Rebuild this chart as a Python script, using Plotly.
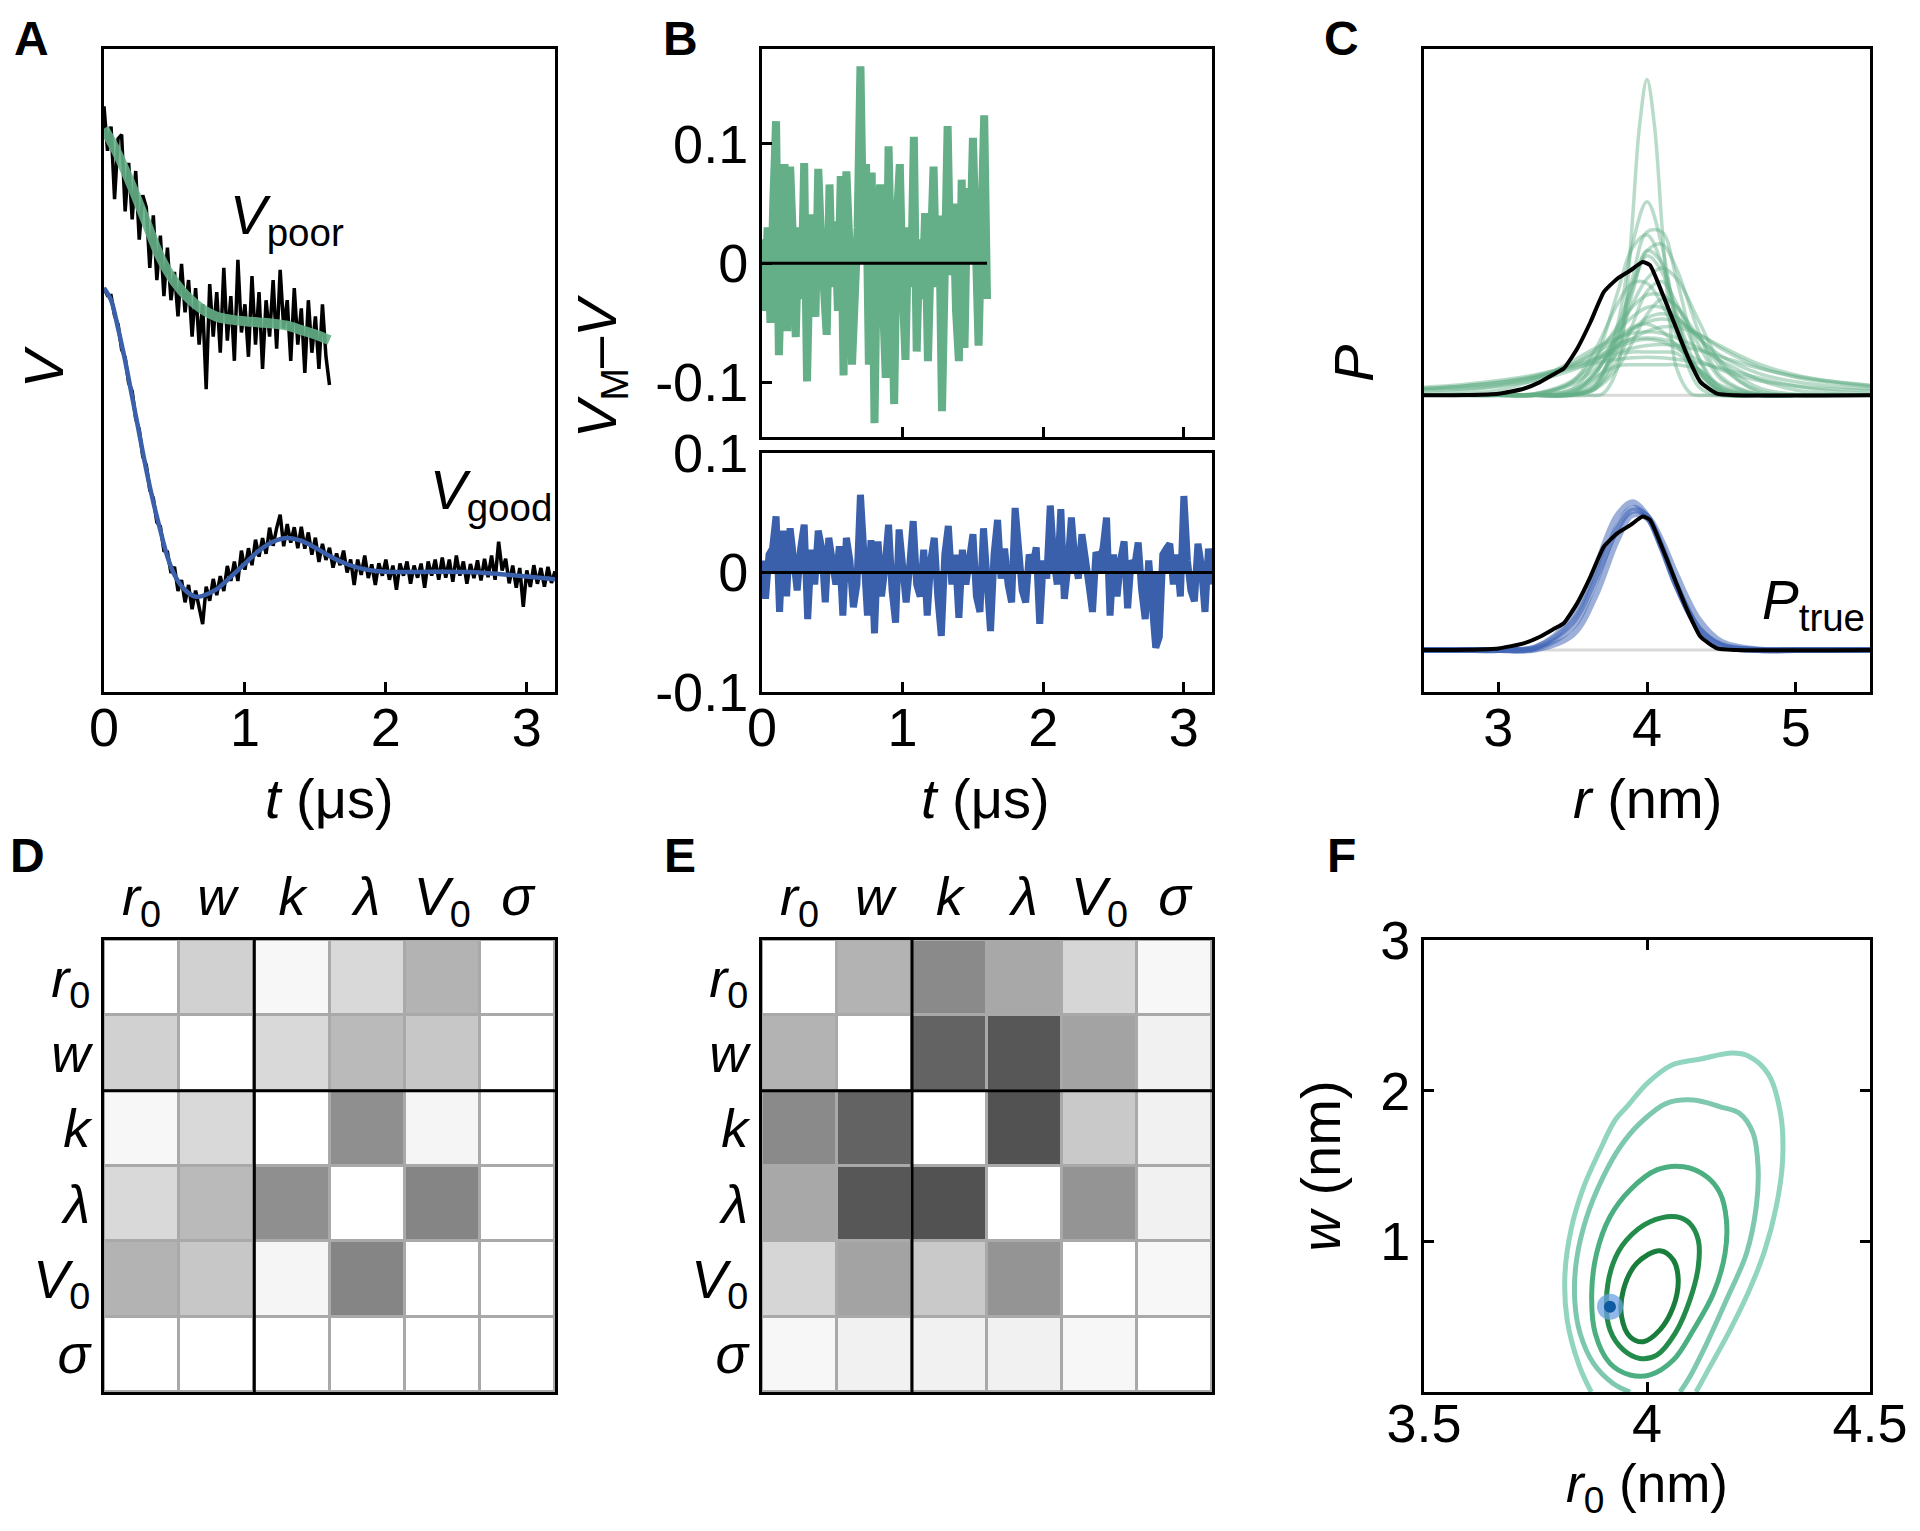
import plotly.graph_objects as go

FONT = "Liberation Sans, Arial, Helvetica, sans-serif"
GREEN = "rgb(100,175,135)"
GREEN_BAND = "rgba(100,175,135,0.9)"
GREEN_THIN = "rgba(100,175,135,0.45)"
BLUE = "rgb(58,96,172)"
BLUE_THIN = "rgba(58,96,180,0.5)"
PAGE_W, PAGE_H = 1920, 1531
BODY_MARGIN = 8                      # default browser body margin around the plot div
W, H = PAGE_W - 2 * BODY_MARGIN, PAGE_H - 2 * BODY_MARGIN

# ---------------- Panel A : signals ----------------
t_fit_good = [0, 0.05, 0.1, 0.15, 0.2, 0.25, 0.3, 0.35, 0.4, 0.45, 0.5, 0.55, 0.6, 0.65, 0.7,
              0.8, 0.9, 1.0, 1.1, 1.2, 1.3, 1.4, 1.5, 1.6, 1.7, 1.8, 1.9, 2.0,
              2.2, 2.4, 2.6, 2.8, 3.0, 3.2]
v_fit_good = [1.0, 0.97, 0.90, 0.82, 0.73, 0.64, 0.55, 0.47, 0.40, 0.335,
              0.29, 0.262, 0.245, 0.236, 0.238, 0.255, 0.285, 0.318, 0.350, 0.372,
              0.381, 0.374, 0.357, 0.337, 0.320, 0.308, 0.301, 0.298, 0.297, 0.298,
              0.297, 0.292, 0.286, 0.279]
t_fit_poor = [0, 0.1, 0.2, 0.3, 0.4, 0.5, 0.6, 0.7, 0.8, 0.9, 1.0, 1.1, 1.2, 1.3, 1.4, 1.5, 1.6]
v_fit_poor = [1.395, 1.33, 1.25, 1.163, 1.076, 1.016, 0.975, 0.947, 0.929, 0.922,
              0.918, 0.915, 0.912, 0.907, 0.896, 0.885, 0.871]

t_good = [round(0.025 * i, 3) for i in range(129)]   # sampling times (us)
t_poor = [round(0.025 * i, 3) for i in range(65)]
v_data_good = [1.000, 0.982, 0.982, 0.932, 0.910, 0.848, 0.828, 0.765, 0.745, 0.677,
               0.650, 0.583, 0.562, 0.500, 0.480, 0.420, 0.410, 0.350, 0.347, 0.295,
               0.310, 0.250, 0.277, 0.222, 0.265, 0.205, 0.251, 0.211, 0.168, 0.261,
               0.226, 0.280, 0.240, 0.287, 0.250, 0.312, 0.275, 0.323, 0.275, 0.350,
               0.303, 0.356, 0.314, 0.377, 0.335, 0.381, 0.342, 0.407, 0.362, 0.406,
               0.439, 0.361, 0.416, 0.370, 0.408, 0.356, 0.409, 0.355, 0.395, 0.340,
               0.382, 0.322, 0.367, 0.327, 0.357, 0.308, 0.343, 0.314, 0.350, 0.296,
               0.328, 0.265, 0.328, 0.290, 0.338, 0.282, 0.316, 0.265, 0.319, 0.288,
               0.328, 0.278, 0.313, 0.253, 0.318, 0.288, 0.323, 0.268, 0.313, 0.283,
               0.318, 0.258, 0.323, 0.288, 0.328, 0.278, 0.333, 0.283, 0.328, 0.273,
               0.338, 0.288, 0.323, 0.268, 0.317, 0.282, 0.326, 0.276, 0.330, 0.284,
               0.338, 0.278, 0.372, 0.301, 0.330, 0.269, 0.313, 0.258, 0.307, 0.211,
               0.301, 0.260, 0.314, 0.268, 0.307, 0.261, 0.310, 0.270, 0.299]
v_data_poor = [1.45, 1.34, 1.40, 1.22, 1.37, 1.38, 1.19, 1.31, 1.17, 1.29,
               1.12, 1.23, 1.20, 1.05, 1.18, 1.02, 1.13, 0.98, 1.10, 0.97,
               1.04, 0.93, 1.06, 0.94, 1.02, 0.88, 1.00, 0.86, 0.96, 0.75,
               1.01, 0.88, 0.99, 0.84, 1.05, 0.87, 0.98, 0.82, 1.07, 0.89,
               0.96, 0.83, 1.03, 0.86, 0.99, 0.80, 0.97, 0.88, 1.02, 0.85,
               1.045, 0.90, 0.97, 0.82, 1.00, 0.86, 0.95, 0.79, 0.97, 0.84,
               0.93, 0.80, 0.96, 0.83, 0.76]

# ---------------- Panel B : residuals ----------------
t_res_poor = [round(0.02 * i, 3) for i in range(81)]
res_poor = [0.02, -0.04, 0.03, -0.05, 0.05, 0.119, -0.077, 0.04, 0.083, -0.057,
            0.081, 0.02, -0.062, 0.03, -0.03, 0.084, -0.099, 0.01, 0.041, -0.045,
            0.079, 0.02, -0.03, -0.060, 0.066, -0.02, 0.035, -0.04, 0.073, -0.094,
            0.077, 0.02, -0.085, -0.01, 0.03, 0.165, 0.02, 0.083, -0.085, 0.076,
            -0.134, 0.03, 0.066, -0.03, -0.096, 0.098, 0.01, -0.118, 0.04, 0.083,
            -0.02, -0.081, 0.03, -0.02, 0.106, -0.074, 0.02, -0.03, 0.042, -0.082,
            0.01, 0.081, -0.02, 0.04, -0.124, 0.02, 0.115, -0.01, 0.05, -0.04,
            -0.082, 0.070, -0.071, 0.063, 0.01, 0.105, -0.03, -0.069, 0.03, 0.124,
            -0.03]
t_res_good = [round(0.025 * i, 3) for i in range(129)]
res_good = [0.01, -0.022, 0.015, 0.02, 0.047, -0.033, 0.035, -0.02, 0.037, 0.01,
            -0.015, 0.02, 0.040, -0.039, 0.019, -0.01, 0.035, 0.02, -0.025, 0.029,
            0.005, -0.01, 0.022, -0.036, 0.029, 0.01, -0.029, -0.01, 0.065, 0.015,
            -0.036, 0.027, -0.051, 0.026, -0.02, 0.005, 0.040, -0.015, -0.042, 0.036,
            0.01, -0.025, 0.005, 0.043, -0.01, -0.02, 0.019, -0.036, 0.01, 0.029,
            -0.02, -0.053, 0.015, 0.039, -0.01, 0.015, -0.038, 0.019, -0.01, 0.01,
            0.032, -0.02, -0.033, 0.037, -0.01, -0.049, 0.015, 0.044, -0.005, 0.02,
            -0.01, -0.025, 0.054, 0.01, -0.015, -0.025, 0.015, 0.005, 0.021, -0.043,
            0.01, -0.005, 0.056, 0.01, -0.01, 0.053, -0.022, 0.005, 0.046, 0.01,
            -0.005, 0.032, 0.015, -0.01, -0.033, 0.017, 0.01, 0.02, 0.046, -0.036,
            0.015, -0.02, 0.01, 0.026, -0.03, 0.01, 0.005, 0.025, -0.015, -0.039,
            0.01, -0.03, -0.063, -0.054, 0.015, 0.02, 0.024, -0.01, 0.015, -0.02,
            0.064, 0.01, -0.015, -0.024, 0.024, 0.005, -0.033, 0.02, -0.01]

# ---------------- Panel C : distance distributions ----------------
r_grid = [2.5, 2.75, 3.0, 3.25, 3.5, 3.65, 3.8, 3.9, 4.0, 4.1, 4.2, 4.35, 4.5, 4.75, 5.0, 5.25, 5.5]
p_poor_samples = [
    [0, 0, 0, 0, 0, 0.033, 0.274, 0.589, 0.76, 0.589, 0.274, 0.033, 0, 0, 0, 0, 0],
    [0, 0, 0, 0, 0.003, 0.042, 0.228, 0.455, 0.642, 0.642, 0.455, 0.142, 0.02, 0, 0, 0, 0],
    [0, 0, 0, 0, 0.026, 0.139, 0.40, 0.577, 0.63, 0.517, 0.321, 0.094, 0.015, 0, 0, 0, 0],
    [0, 0, 0, 0, 0.015, 0.081, 0.262, 0.433, 0.568, 0.594, 0.495, 0.246, 0.073, 0.003, 0, 0, 0],
    [0, 0, 0, 0, 0.003, 0.038, 0.213, 0.415, 0.548, 0.485, 0.292, 0.066, 0.006, 0, 0, 0, 0],
    [0, 0, 0, 0.002, 0.022, 0.086, 0.229, 0.355, 0.458, 0.5, 0.458, 0.29, 0.125, 0.013, 0, 0, 0],
    [0, 0, 0, 0.003, 0.055, 0.177, 0.357, 0.44, 0.44, 0.357, 0.236, 0.086, 0.02, 0.001, 0, 0, 0],
    [0, 0, 0.001, 0.007, 0.058, 0.144, 0.27, 0.346, 0.394, 0.394, 0.346, 0.226, 0.111, 0.018, 0.001, 0, 0],
    [0.022, 0.03, 0.044, 0.07, 0.121, 0.175, 0.252, 0.307, 0.345, 0.345, 0.307, 0.224, 0.154, 0.086, 0.053, 0.035, 0.025],
    [0.027, 0.036, 0.051, 0.077, 0.123, 0.166, 0.221, 0.259, 0.288, 0.30, 0.288, 0.24, 0.183, 0.112, 0.071, 0.048, 0.034],
    [0.001, 0.005, 0.021, 0.062, 0.135, 0.185, 0.226, 0.244, 0.25, 0.244, 0.226, 0.185, 0.135, 0.062, 0.021, 0.005, 0.001],
    [0.032, 0.042, 0.058, 0.081, 0.115, 0.142, 0.169, 0.185, 0.196, 0.2, 0.196, 0.177, 0.151, 0.107, 0.075, 0.054, 0.04],
    [0, 0, 0, 0, 0.005, 0.06, 0.16, 0.17, 0.17, 0.17, 0.165, 0.09, 0.01, 0, 0, 0, 0],
    [0, 0, 0, 0, 0.01, 0.09, 0.2, 0.22, 0.225, 0.22, 0.2, 0.1, 0.015, 0, 0, 0, 0],
    [0.007, 0.017, 0.037, 0.069, 0.107, 0.127, 0.142, 0.148, 0.15, 0.148, 0.142, 0.127, 0.107, 0.069, 0.037, 0.017, 0.007],
    [0, 0, 0, 0.006, 0.043, 0.104, 0.194, 0.256, 0.303, 0.32, 0.303, 0.227, 0.131, 0.03, 0.004, 0, 0],
    [0.027, 0.036, 0.05, 0.073, 0.113, 0.148, 0.192, 0.224, 0.251, 0.268, 0.268, 0.238, 0.192, 0.123, 0.08, 0.054, 0.038],
    [0, 0, 0, 0, 0.003, 0.026, 0.134, 0.273, 0.408, 0.447, 0.36, 0.146, 0.03, 0, 0, 0, 0],
    [0, 0, 0, 0, 0.003, 0.024, 0.106, 0.207, 0.317, 0.378, 0.351, 0.196, 0.062, 0.003, 0, 0, 0],
    [0, 0, 0, 0, 0.01, 0.07, 0.115, 0.12, 0.12, 0.12, 0.12, 0.1, 0.03, 0, 0, 0, 0],
    [0, 0, 0, 0.005, 0.05, 0.125, 0.22, 0.267, 0.28, 0.252, 0.195, 0.102, 0.038, 0.003, 0, 0, 0],
    [0.018, 0.025, 0.037, 0.058, 0.099, 0.137, 0.184, 0.21, 0.22, 0.21, 0.184, 0.137, 0.099, 0.058, 0.037, 0.025, 0.018],
    [0, 0, 0, 0, 0.001, 0.024, 0.18, 0.398, 0.568, 0.52, 0.306, 0.06, 0.004, 0, 0, 0, 0],
]
r_narrow = [2.5, 3.6, 3.7, 3.8, 3.85, 3.9, 3.95, 4.0, 4.05, 4.1, 4.15, 4.2, 4.3, 4.4, 5.5]
p_narrow = [0, 0, 0.005, 0.105, 0.31, 0.67, 1.06, 1.24, 1.06, 0.67, 0.31, 0.105, 0.005, 0, 0]
p_good_samples = [
    [0, 0, 0, 0.005, 0.09, 0.263, 0.483, 0.558, 0.525, 0.401, 0.25, 0.083, 0.017, 0, 0, 0, 0],
    [0, 0, 0, 0.002, 0.06, 0.208, 0.432, 0.53, 0.518, 0.405, 0.251, 0.08, 0.015, 0, 0, 0, 0],
    [0, 0, 0, 0.01, 0.128, 0.32, 0.528, 0.58, 0.528, 0.397, 0.249, 0.085, 0.02, 0, 0, 0, 0],
    [0, 0, 0, 0.01, 0.11, 0.278, 0.475, 0.546, 0.527, 0.428, 0.292, 0.119, 0.033, 0.002, 0, 0, 0],
]
r_true = [2.5, 2.8, 3.0, 3.17, 3.28, 3.38, 3.44, 3.53, 3.62, 3.71, 3.80, 3.89, 3.97, 4.02,
          4.09, 4.18, 4.27, 4.36, 4.47, 4.6, 5.5]
p_true = [0, 0.001, 0.006, 0.026, 0.052, 0.085, 0.105, 0.183, 0.288, 0.406, 0.458, 0.491,
          0.524, 0.511, 0.419, 0.288, 0.157, 0.052, 0.0065, 0, 0]
UPPER_OFFSET = 1.0

# ---------------- Panels D / E : correlation magnitudes ----------------
params = ["<i>r</i><sub>0</sub>", "<i>w</i>", "<i>k</i>", "<i>λ</i>", "<i>V</i><sub>0</sub>", "<i>σ</i>"]
n_dist_params = 2
corr_poor = [[0, 0.18, 0.03, 0.15, 0.30, 0],
             [0.18, 0, 0.15, 0.27, 0.22, 0],
             [0.03, 0.15, 0, 0.44, 0.04, 0],
             [0.15, 0.27, 0.44, 0, 0.48, 0],
             [0.30, 0.22, 0.04, 0.48, 0, 0],
             [0, 0, 0, 0, 0, 0]]
corr_good = [[0, 0.30, 0.46, 0.34, 0.16, 0.03],
             [0.30, 0, 0.61, 0.66, 0.36, 0.055],
             [0.46, 0.61, 0, 0.68, 0.21, 0.055],
             [0.34, 0.66, 0.68, 0, 0.42, 0.055],
             [0.16, 0.36, 0.21, 0.42, 0, 0.03],
             [0.03, 0.055, 0.055, 0.055, 0.03, 0]]

# ---------------- Panel F : posterior contours ----------------
contours = [
    ([3.875, 3.848, 3.821, 3.816, 3.83, 3.857, 3.893, 3.929, 3.956, 4.001, 4.056, 4.12, 4.191,
      4.227, 4.272, 4.3, 4.304, 4.29, 4.263, 4.227, 4.182, 4.137, 4.11],
     [0.0, 0.175, 0.477, 0.779, 1.082, 1.353, 1.595, 1.807, 1.897, 2.05, 2.17, 2.21, 2.25,
      2.23, 2.11, 1.837, 1.535, 1.233, 0.93, 0.66, 0.387, 0.145, 0.0], "rgb(145,212,192)"),
    ([3.962, 3.924, 3.88, 3.85, 3.838, 3.842, 3.865, 3.902, 3.94, 3.984, 4.044, 4.104, 4.164,
      4.208, 4.238, 4.249, 4.245, 4.223, 4.178, 4.134, 4.096, 4.074],
     [0.0, 0.057, 0.19, 0.389, 0.61, 0.876, 1.163, 1.429, 1.628, 1.783, 1.916, 1.938, 1.893,
      1.849, 1.717, 1.495, 1.23, 0.92, 0.61, 0.323, 0.101, 0.0], "rgb(125,200,175)"),
    ([4.082, 4.134, 4.164, 4.178, 4.175, 4.149, 4.104, 4.059, 4.007, 3.962, 3.917, 3.884,
      3.876, 3.887, 3.917, 3.962, 4.022, 4.082],
     [1.495, 1.429, 1.319, 1.142, 0.92, 0.655, 0.412, 0.212, 0.113, 0.113, 0.19, 0.389,
      0.655, 0.92, 1.163, 1.341, 1.474, 1.495], "rgb(75,175,130)"),
    ([4.066, 4.096, 4.115, 4.115, 4.096, 4.063, 4.022, 3.984, 3.947, 3.917, 3.909, 3.924,
      3.954, 4.007, 4.066],
     [1.163, 1.119, 1.008, 0.832, 0.61, 0.389, 0.245, 0.223, 0.279, 0.412, 0.61, 0.854,
      1.008, 1.13, 1.163], "rgb(35,140,75)"),
    ([4.029, 4.059, 4.07, 4.059, 4.029, 3.992, 3.962, 3.943, 3.947, 3.977, 4.029],
     [0.938, 0.876, 0.743, 0.566, 0.412, 0.334, 0.367, 0.5, 0.677, 0.854, 0.938], "rgb(25,125,60)"),
]
good_r0 = [3.917]
good_w = [0.566]

# =====================================================================
fig = go.Figure()


def line(x, y, color, width, xa, ya, shape="linear", smoothing=1.0, fill=None):
    ln = dict(color=color, width=width, shape=shape)
    if shape == "spline":
        ln["smoothing"] = smoothing
    fig.add_trace(go.Scatter(x=x, y=y, mode="lines", line=ln, fill=fill,
                             fillcolor=color if fill else None,
                             xaxis=xa, yaxis=ya, showlegend=False, hoverinfo="skip"))


# Panel A
line(t_poor, v_data_poor, "black", 3.5, "x", "y")
line(t_good, v_data_good, "black", 3.5, "x", "y")
line(t_fit_poor, v_fit_poor, GREEN_BAND, 10, "x", "y", "spline")
line(t_fit_good, v_fit_good, BLUE, 4.5, "x", "y", "spline")

# Panel B
line(t_res_poor, res_poor, GREEN, 8, "x2", "y2", fill="tozeroy")
line([t_res_poor[0], t_res_poor[-1]], [0, 0], "black", 3, "x2", "y2")
line(t_res_good, res_good, BLUE, 7, "x3", "y3", fill="tozeroy")
line([t_res_good[0], t_res_good[-1]], [0, 0], "black", 3, "x3", "y3")

# Panel C
line([r_grid[0], r_grid[-1]], [UPPER_OFFSET, UPPER_OFFSET], "#d9d9d9", 3, "x4", "y4")
line([r_grid[0], r_grid[-1]], [0, 0], "#d9d9d9", 3, "x4", "y4")
line(r_narrow, [v + UPPER_OFFSET for v in p_narrow], GREEN_THIN, 3.5, "x4", "y4", "spline")
for p in p_poor_samples:
    line(r_grid, [v + UPPER_OFFSET for v in p], GREEN_THIN, 3.5, "x4", "y4", "spline")
line(r_true, [v + UPPER_OFFSET for v in p_true], "black", 4, "x4", "y4", "spline", 0.5)
for p in p_good_samples:
    line(r_grid, p, BLUE_THIN, 6, "x4", "y4", "spline")
line(r_true, p_true, "black", 4, "x4", "y4", "spline", 0.5)

# Panels D, E
idx = list(range(len(params)))
for z, xa, ya in [(corr_poor, "x5", "y5"), (corr_good, "x6", "y6")]:
    fig.add_trace(go.Heatmap(z=z, x=idx, y=idx, colorscale=[[0, "white"], [1, "black"]],
                             zmin=0, zmax=1, showscale=False, xgap=3, ygap=3,
                             xaxis=xa, yaxis=ya, hoverinfo="skip"))

# Panel F
for cx, cy, col in contours:
    line(cx, cy, col, 5, "x7", "y7", "spline")
fig.add_trace(go.Scatter(x=good_r0, y=good_w, mode="markers",
                         marker=dict(size=26, color="rgba(110,160,225,0.75)", line=dict(width=0)),
                         xaxis="x7", yaxis="y7", showlegend=False, hoverinfo="skip"))
fig.add_trace(go.Scatter(x=good_r0, y=good_w, mode="markers",
                         marker=dict(size=12, color="rgb(15,90,160)", line=dict(width=0)),
                         xaxis="x7", yaxis="y7", showlegend=False, hoverinfo="skip"))

# ---------------- axes ----------------
TICKFONT = dict(family=FONT, size=54, color="black")
LABELFONT = dict(family=FONT, size=54, color="black")
TITLEFONT = dict(family=FONT, size=56, color="black")
XSTAND = -14


def px_dom_x(a, b):
    return [(a - BODY_MARGIN) / W, (b - BODY_MARGIN) / W]


def px_dom_y(top, bottom):
    return [1 - (bottom - BODY_MARGIN) / H, 1 - (top - BODY_MARGIN) / H]


def base_axis(domain, anchor, **kw):
    d = dict(domain=domain, anchor=anchor, showline=True, mirror=True, linecolor="black",
             linewidth=3, showgrid=False, zeroline=False, ticks="inside", ticklen=10,
             tickwidth=3, tickcolor="black", tickfont=TICKFONT, automargin=False)
    d.update(kw)
    return d


colA = px_dom_x(104, 555)
colB = px_dom_x(762, 1212)
colC = px_dom_x(1424, 1870)
rowTop = px_dom_y(49, 692)
rowBot = px_dom_y(940, 1392)

fig.update_layout(
    xaxis=base_axis(colA, "y", range=[0, 3.2], tickvals=[0, 1, 2, 3], ticklabelstandoff=XSTAND),
    yaxis=base_axis(rowTop, "x", range=[0, 1.592], showticklabels=False, ticks=""),
    xaxis2=base_axis(colB, "y2", range=[0, 3.2], tickvals=[1, 2, 3], showticklabels=False),
    yaxis2=base_axis(px_dom_y(49, 437), "x2", range=[-0.1456, 0.1795], tickvals=[-0.1, 0, 0.1],
                     ticktext=["-0.1", "0", "0.1"]),
    xaxis3=base_axis(colB, "y3", range=[0, 3.2], tickvals=[0, 1, 2, 3], ticklabelstandoff=XSTAND),
    yaxis3=base_axis(px_dom_y(453, 692), "x3", range=[-0.1, 0.1], tickvals=[-0.1, 0, 0.1],
                     ticktext=["-0.1", "0", "0.1"]),
    xaxis4=base_axis(colC, "y4", range=[2.5, 5.5], tickvals=[3, 4, 5], ticklabelstandoff=XSTAND),
    yaxis4=base_axis(rowTop, "x4", range=[-0.165, 2.36], showticklabels=False, ticks=""),
    xaxis5=base_axis(colA, "y5", range=[-0.5, 5.5], side="top", tickvals=idx, ticktext=params,
                     ticks="", tickfont=LABELFONT),
    yaxis5=base_axis(rowBot, "x5", range=[5.5, -0.5], tickvals=idx, ticktext=params, ticks="",
                     tickfont=LABELFONT),
    xaxis6=base_axis(colB, "y6", range=[-0.5, 5.5], side="top", tickvals=idx, ticktext=params,
                     ticks="", tickfont=LABELFONT),
    yaxis6=base_axis(rowBot, "x6", range=[5.5, -0.5], tickvals=idx, ticktext=params, ticks="",
                     tickfont=LABELFONT),
    xaxis7=base_axis(colC, "y7", range=[3.5, 4.5], tickvals=[3.5, 4, 4.5], mirror="ticks",
                     ticklabelstandoff=-18),
    yaxis7=base_axis(rowBot, "x7", range=[0, 3], tickvals=[1, 2, 3], mirror="ticks",
                     title=dict(text="<i>w</i> (nm)", font=TITLEFONT, standoff=22)),
)

# grid background & group dividers for the matrices
shapes = []
split = n_dist_params - 0.5
for xa, ya in [("x5", "y5"), ("x6", "y6")]:
    shapes.append(dict(type="rect", xref=f"{xa} domain", yref=f"{ya} domain", x0=0, x1=1, y0=0, y1=1,
                       fillcolor="#a9a9a9", line=dict(width=0), layer="below"))
    shapes.append(dict(type="line", xref=xa, yref=f"{ya} domain", x0=split, x1=split, y0=0, y1=1,
                       line=dict(color="black", width=3)))
    shapes.append(dict(type="line", xref=f"{xa} domain", yref=ya, x0=0, x1=1, y0=split, y1=split,
                       line=dict(color="black", width=3)))

ann = []


def paper_text(text, xpx, ypx, size=56, angle=0, bold=False):
    ann.append(dict(text=f"<b>{text}</b>" if bold else text,
                    x=(xpx - BODY_MARGIN) / W, y=1 - (ypx - BODY_MARGIN) / H,
                    xref="paper", yref="paper", showarrow=False, textangle=angle,
                    xanchor="center", yanchor="middle",
                    font=dict(family=FONT, size=size, color="black")))


for letter, (lx, ly) in zip("ABCDEF", [(31, 38), (680, 38), (1341, 38), (27, 855), (680, 855), (1341, 855)]):
    paper_text(letter, lx, ly, size=48, bold=True)

paper_text("<i>V</i>", 43, 367, angle=-90)
paper_text("<i>V</i><sub>M</sub>–<i>V</i>", 600, 367, angle=-90)
paper_text("<i>P</i>", 1353, 364, angle=-90)
paper_text("<i>t</i> (μs)", 329, 798)
paper_text("<i>t</i> (μs)", 986, 798)
paper_text("<i>r</i> (nm)", 1647, 798)
paper_text("<i>r</i><sub>0</sub> (nm)", 1647, 1487, size=53)

ann.append(dict(text="<i>V</i><sub>poor</sub>", x=0.88, y=1.17, xref="x", yref="y", showarrow=False,
                xanchor="left", yanchor="middle", font=dict(family=FONT, size=55, color="black")))
ann.append(dict(text="<i>V</i><sub>good</sub>", x=2.30, y=0.49, xref="x", yref="y", showarrow=False,
                xanchor="left", yanchor="middle", font=dict(family=FONT, size=55, color="black")))
ann.append(dict(text="<i>P</i><sub>true</sub>", x=4.76, y=0.18, xref="x4", yref="y4", showarrow=False,
                xanchor="left", yanchor="middle", font=dict(family=FONT, size=55, color="black")))

fig.update_layout(width=W, height=H, margin=dict(l=0, r=0, t=0, b=0),
                  paper_bgcolor="white", plot_bgcolor="white", showlegend=False,
                  shapes=shapes, annotations=ann, font=dict(family=FONT, color="black"))

fig.write_html("out.html")
